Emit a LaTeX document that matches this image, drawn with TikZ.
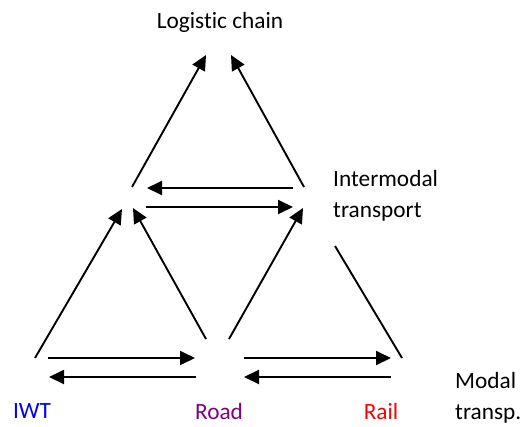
\documentclass[tikz,border=0pt]{standalone}
\usepackage{fontspec}
\setmainfont[Ligatures=NoCommon]{Carlito}
\usetikzlibrary{calc,arrows.meta}
\definecolor{roadpurple}{RGB}{128,0,128}
\tikzset{
	arr/.style={line width=1.9pt, -{Triangle[length=15pt,width=14pt]}},
	plain/.style={line width=1.9pt},
	lbl/.style={inner sep=0pt, font=\fontsize{23.3}{31}\selectfont}
}

\begin{document}
\begin{tikzpicture}[x=1pt, y=-1pt]
			%%%%% START %%%%%
			\useasboundingbox (0, 0) rectangle (522, 426);
			
			\coordinate (top) at (218, 33);
			\coordinate (mleft) at (127, 198);
			\coordinate (mright) at (300, 198);
			\coordinate (iwt) at (38, 367);
			\coordinate (road) at (218, 367);
			\coordinate (rail) at (400, 367);
			
			\node[lbl] (chain) at (220, 22) {Logistic chain};
			\node[lbl, anchor=west, align=left] (inter) at (333, 196) {Intermodal\\transport};
			\node[lbl, text=blue] (iwtlbl) at (32, 411) {IWT};
			\node[lbl, text=roadpurple] (roadlbl) at (219, 411) {Road};
			\node[lbl, text=red] (raillbl) at (381, 411) {Rail};
			\node[lbl, anchor=west, align=left] (modal) at (455, 398) {Modal\\transp.};
			
			\draw[arr] ($(mleft)+(5,-11)$) -- ($(top)+(-12,22)$);
			\draw[arr] ($(mright)+(4,-11)$) -- ($(top)+(13,22)$);
			\draw[arr] ($(mright)+(-7,-10)$) -- ($(mleft)+(20,-10)$);
			\draw[arr] ($(mleft)+(19,9)$) -- ($(mright)+(-7,9)$);
			
			\draw[arr] ($(iwt)+(-3,-9)$) -- ($(mleft)+(-5,11)$);
			\draw[arr] ($(road)+(-12,-28)$) -- ($(mleft)+(6,10)$);
			\draw[arr] ($(road)+(11,-28)$) -- ($(mright)+(3,10)$);
			\draw[plain] ($(rail)+(2,-9)$) -- ($(rail)+(-65,-121)$);
			
			\draw[arr] ($(iwt)+(10,-9)$) -- ($(road)+(-23,-9)$);
			\draw[arr] ($(road)+(-22,10)$) -- ($(iwt)+(11,10)$);
			\draw[arr] ($(road)+(26,-9)$) -- ($(rail)+(-9,-9)$);
			\draw[arr] ($(rail)+(-9,10)$) -- ($(road)+(26,10)$);
			%%%%% END %%%%%
\end{tikzpicture}
\end{document}
